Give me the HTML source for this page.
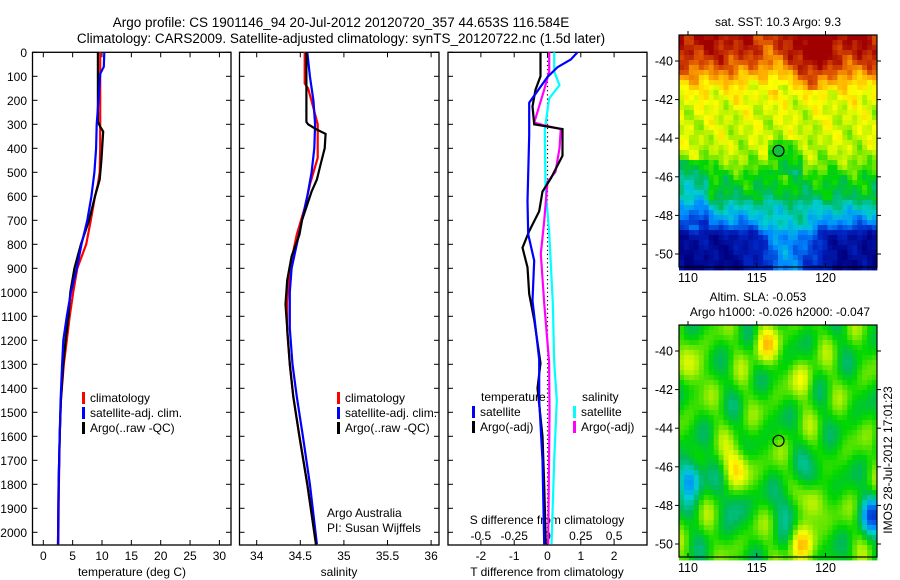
<!DOCTYPE html>
<html><head><meta charset="utf-8"><style>
body{margin:0;background:#fff;}
svg{display:block;font-family:"Liberation Sans",sans-serif;}
text{fill:#000;}
</style></head><body>
<svg id="fig" width="900" height="580" viewBox="0 0 900 580" xmlns="http://www.w3.org/2000/svg">
<rect x="0" y="0" width="900" height="580" fill="#fff"/>
<text x="341" y="27" font-size="13.5" text-anchor="middle">Argo profile: CS 1901146_94 20-Jul-2012 20120720_357 44.653S 116.584E</text>
<text x="341" y="43" font-size="13.5" text-anchor="middle">Climatology: CARS2009. Satellite-adjusted climatology: synTS_20120722.nc (1.5d later)</text>
<g id="p1"></g>
<g id="p2"></g>
<g id="p3"></g>
<g id="m1"></g>
<g id="m2"></g>
<text x="327" y="517" font-size="12">Argo Australia</text>
<text x="327" y="532" font-size="12">PI: Susan Wijffels</text>
<text x="778" y="26" font-size="12" text-anchor="middle">sat. SST: 10.3 Argo: 9.3</text>
<text x="758" y="301" font-size="12" text-anchor="middle">Altim. SLA: -0.053</text>
<text x="780" y="316" font-size="12" text-anchor="middle">Argo h1000: -0.026 h2000: -0.047</text>
<text transform="translate(892,460) rotate(-90)" font-size="12" text-anchor="middle">IMOS 28-Jul-2012 17:01:23</text>
</svg>
<script>
// ---- data ----
const depthTicks=[0,100,200,300,400,500,600,700,800,900,1000,1100,1200,1300,1400,1500,1600,1700,1800,1900,2000];
const tempTicks=[0,5,10,15,20,25,30];
const salTicks=[34,34.5,35,35.5,36];
const tdiffTicks=[-2,-1,0,1,2];
const sdiffTicks=[-0.5,-0.25,0,0.25,0.5];
const sdiffLabels=["-0.5","-0.25","0","0.25","0.5"];

const tClimDepth=[0,100,200,300,400,500,550,600,700,800,900,1000,1100,1200,1300,1450,1600,1800,2050];
const tClimVal=[9.7,9.7,9.7,9.7,9.7,9.6,9.3,8.8,8.1,7.3,5.8,5.1,4.5,4.0,3.5,3.0,2.8,2.65,2.55];
const tSatDepth=[0,60,90,200,300,400,500,600,700,800,900,1000,1100,1200,1300,1450,1600,1800,2050];
const tSatVal=[10.4,10.3,9.7,9.4,9.1,9.0,8.7,8.2,7.5,6.5,5.7,4.7,4.0,3.4,3.2,2.95,2.8,2.6,2.5];
const tArgoDepth=[0,290,310,330,450,530,600,700,800,900,1000,1100,1200,1300,1450,1600,1800,2050];
const tArgoVal=[9.3,9.3,9.7,10.2,9.9,9.6,8.8,7.8,6.4,5.3,4.6,4.3,3.8,3.4,3.0,2.8,2.6,2.5];

const sClimDepth=[0,130,150,217,300,440,551,648,759,898,1037,1162,1300,1435,1600,1800,2050];
const sClimVal=[34.55,34.55,34.59,34.64,34.70,34.70,34.61,34.55,34.46,34.38,34.35,34.35,34.38,34.42,34.49,34.58,34.68];
const sSatDepth=[0,100,200,300,400,500,600,700,800,900,1000,1150,1300,1435,1600,1800,2050];
const sSatVal=[34.58,34.61,34.65,34.67,34.66,34.63,34.58,34.52,34.46,34.40,34.38,34.38,34.41,34.46,34.53,34.61,34.69];
const sArgoDepth=[0,290,300,320,340,400,470,530,580,700,760,850,950,1050,1150,1300,1435,1600,1800,2050];
const sArgoVal=[34.57,34.57,34.59,34.68,34.79,34.78,34.73,34.69,34.63,34.52,34.49,34.40,34.35,34.33,34.35,34.38,34.42,34.49,34.58,34.68];

const dTSatDepth=[0,30,62,103,210,346,621,758,868,1035,1280,1450,1700,2050];
const dTSatVal=[0.9,0.7,0.3,0.0,-0.55,-0.55,-0.6,-0.58,-0.4,-0.45,-0.25,-0.25,-0.15,-0.1];
const dTArgoDepth=[0,100,156,226,300,320,431,526,580,662,745,814,896,1007,1115,1295,1400,1600,1800,2050];
const dTArgoVal=[-0.21,-0.21,-0.36,-0.45,-0.4,0.45,0.45,0.1,-0.15,-0.25,-0.55,-0.75,-0.6,-0.55,-0.4,-0.21,-0.3,-0.15,-0.1,-0.05];
const dSArgoDepth=[0,80,156,293,305,320,400,498,540,703,840,1045,1290,1500,1800,2050];
const dSArgoVal=[0.013,0.013,-0.025,-0.1,-0.02,0.1,0.09,0.06,0.0,-0.025,-0.05,-0.025,0.012,0.015,0.01,0.005];
const dSSatDepth=[0,80,137,192,320,567,750,1045,1290,1450,1700,2050];
const dSSatVal=[0.05,0.05,0.09,0.013,-0.02,-0.015,0.013,0.04,0.05,0.07,0.05,0.03];

const argoLon=116.584, argoLat=-44.653;
const mapLonTicks=[110,115,120];
const mapLatTicks=[-40,-42,-44,-46,-48,-50];

// ---- helpers ----
const NS="http://www.w3.org/2000/svg";
function mk(parent,tag,attrs,txt){const e=document.createElementNS(NS,tag);for(const k in attrs)e.setAttribute(k,attrs[k]);if(txt!==undefined)e.textContent=txt;parent.appendChild(e);return e;}
const Y0=52.3, PXM=0.24, YB=545;
const yD=d=>Y0+d*PXM;

function frame(g,x0,x1,name){
  const r=mk(g,'rect',{x:x0,y:Y0,width:x1-x0,height:YB-Y0,fill:'none',stroke:'#000','stroke-width':1.3});
  
  
  depthTicks.forEach(d=>{
    mk(g,'line',{x1:x0,x2:x0+5,y1:yD(d),y2:yD(d),stroke:'#000'});
    mk(g,'line',{x1:x1,x2:x1-5,y1:yD(d),y2:yD(d),stroke:'#000'});
  });
}
function profile(g,depths,vals,fx,color,name,w){
  const pts=[];
  for(let i=0;i<depths.length;i++){pts.push(fx(vals[i]).toFixed(1)+','+yD(depths[i]).toFixed(1));}
  const p=mk(g,'polyline',{points:pts.join(' '),fill:'none',stroke:color,'stroke-width':w||2.2,'stroke-linejoin':'miter'});
  
  
}
function legendRow(g,x,y,color,label,name){
  const b=mk(g,'rect',{x:x,y:y-6,width:3,height:12,fill:color});
  const t=mk(g,'text',{x:x+8,y:y+4,'font-size':12},label);
  
  
}

// ---- panel 1: temperature ----
const g1=document.getElementById('p1');
const fT=v=>43.3+v*5.87;
frame(g1,32.5,231,'temperature-plot-frame');
depthTicks.forEach(d=>{
  const t=mk(g1,'text',{x:27,y:yD(d)+4.5,'font-size':12,'text-anchor':'end'},String(d));
  
  
});
tempTicks.forEach(v=>{
  mk(g1,'line',{x1:fT(v),x2:fT(v),y1:Y0,y2:Y0+5,stroke:'#000'});
  mk(g1,'line',{x1:fT(v),x2:fT(v),y1:YB,y2:YB-5,stroke:'#000'});
  const t=mk(g1,'text',{x:fT(v),y:560,'font-size':12,'text-anchor':'middle'},String(v));
  
  
});
mk(g1,'text',{x:132,y:576,'font-size':12,'text-anchor':'middle',},'temperature (deg C)');
profile(g1,tClimDepth,tClimVal,fT,'#ff0000','temperature-climatology-line');
profile(g1,tArgoDepth,tArgoVal,fT,'#000000','temperature-argo-line');
profile(g1,tSatDepth,tSatVal,fT,'#0000ff','temperature-satellite-line');
legendRow(g1,82,398,'#ff0000','climatology','legend-climatology');
legendRow(g1,82,413,'#0000ff','satellite-adj. clim.','legend-satellite-adj');
legendRow(g1,82,428,'#000000','Argo(..raw -QC)','legend-argo');

// ---- panel 2: salinity ----
const g2=document.getElementById('p2');
const fS=v=>256.7+(v-34)*87.2;
frame(g2,239.5,439,'salinity-plot-frame');
salTicks.forEach(v=>{
  mk(g2,'line',{x1:fS(v),x2:fS(v),y1:Y0,y2:Y0+5,stroke:'#000'});
  mk(g2,'line',{x1:fS(v),x2:fS(v),y1:YB,y2:YB-5,stroke:'#000'});
  const t=mk(g2,'text',{x:fS(v),y:560,'font-size':12,'text-anchor':'middle'},String(v));
  
  
});
mk(g2,'text',{x:339,y:576,'font-size':12,'text-anchor':'middle',},'salinity');
profile(g2,sClimDepth,sClimVal,fS,'#ff0000','salinity-climatology-line');
profile(g2,sSatDepth,sSatVal,fS,'#0000ff','salinity-satellite-line');
profile(g2,sArgoDepth,sArgoVal,fS,'#000000','salinity-argo-line');
legendRow(g2,337,398,'#ff0000','climatology','legend-climatology-2');
legendRow(g2,337,413,'#0000ff','satellite-adj. clim.','legend-satellite-adj-2');
legendRow(g2,337,428,'#000000','Argo(..raw -QC)','legend-argo-2');

// ---- panel 3: differences ----
const g3=document.getElementById('p3');
const fDT=v=>547.5+v*33.3;
const fDS=v=>547.5+v*133.2;
frame(g3,448,647,'difference-plot-frame');
mk(g3,'line',{x1:547.5,x2:547.5,y1:Y0,y2:YB,stroke:'#000','stroke-dasharray':'1.2,3','stroke-width':1.2,});
sdiffTicks.forEach((v,i)=>{
  mk(g3,'line',{x1:fDS(v),x2:fDS(v),y1:Y0,y2:Y0+5,stroke:'#000'});
  const t=mk(g3,'text',{x:fDS(v),y:540,'font-size':12,'text-anchor':'middle'},sdiffLabels[i]);
  
  
});
tdiffTicks.forEach(v=>{
  mk(g3,'line',{x1:fDT(v),x2:fDT(v),y1:YB,y2:YB-5,stroke:'#000'});
  const t=mk(g3,'text',{x:fDT(v),y:560,'font-size':12,'text-anchor':'middle'},String(v));
  
  
});
mk(g3,'text',{x:547,y:524,'font-size':12,'text-anchor':'middle',},'S difference from climatology');
mk(g3,'text',{x:547,y:576,'font-size':12,'text-anchor':'middle',},'T difference from climatology');
profile(g3,dSSatDepth,dSSatVal,fDS,'#00ffff','s-diff-satellite-line');
profile(g3,dSArgoDepth,dSArgoVal,fDS,'#ff00ff','s-diff-argo-line');
profile(g3,dTArgoDepth,dTArgoVal,fDT,'#000000','t-diff-argo-line');
profile(g3,dTSatDepth,dTSatVal,fDT,'#0000ff','t-diff-satellite-line');
mk(g3,'text',{x:481,y:401,'font-size':12,},'temperature');
mk(g3,'text',{x:582,y:401,'font-size':12,},'salinity');
legendRow(g3,472,412,'#0000ff','satellite','legend-t-satellite');
legendRow(g3,472,427,'#000000','Argo(-adj)','legend-t-argo');
legendRow(g3,573,412,'#00ffff','satellite','legend-s-satellite');
legendRow(g3,573,427,'#ff00ff','Argo(-adj)','legend-s-argo');

// ---- maps ----
const MX0=679, MX1=877;
const fLon=v=>688+(v-110)*13.75;
const cmapPos=[0,0.15,0.28,0.38,0.48,0.55,0.65,0.72,0.82,0.9,1];
const cmapRGB=[[0,0,130],[0,40,200],[0,140,255],[0,205,210],[0,185,90],[0,215,0],[170,240,0],[255,255,0],[255,170,0],[220,80,0],[160,0,0]];
function cmap(v){
  v=Math.max(0,Math.min(1,v));
  for(let i=1;i<cmapPos.length;i++){
    if(v<=cmapPos[i]){const t=(v-cmapPos[i-1])/(cmapPos[i]-cmapPos[i-1]);const a=cmapRGB[i-1],b=cmapRGB[i];
      return 'rgb('+Math.round(a[0]+t*(b[0]-a[0]))+','+Math.round(a[1]+t*(b[1]-a[1]))+','+Math.round(a[2]+t*(b[2]-a[2]))+')';}
  }
  return 'rgb(160,0,0)';
}
// SST meridional profile (lat, colour level)
const sstLat=[-38.6,-39.5,-40.2,-40.8,-41.5,-42.5,-44.5,-45.4,-46.0,-47.0,-47.8,-48.5,-49.0,-50.7];
const sstLvl=[0.99,0.96,0.9,0.82,0.73,0.69,0.67,0.62,0.55,0.5,0.36,0.24,0.06,0.02];
function interp(xs,ys,x){
  if(x>=xs[0])return ys[0];
  for(let i=1;i<xs.length;i++){if(x>=xs[i]){const t=(x-xs[i-1])/(xs[i]-xs[i-1]);return ys[i-1]+t*(ys[i]-ys[i-1]);}}
  return ys[ys.length-1];
}
function drawMap(gid,yTop,yBot,latToY,field,filled,name){
  const g=document.getElementById(gid);
  const cw=4.95, ch=5.0;
  for(let y=yTop;y<yBot;y+=ch){
    for(let x=MX0;x<MX1;x+=cw){
      const lon=110+(x+cw/2-688)/13.75;
      const lat=-40-((y+ch/2)-latToY(-40))/19.3;
      mk(g,'rect',{x:x.toFixed(2),y:y.toFixed(2),width:(cw+0.4).toFixed(2),height:(ch+0.4).toFixed(2),fill:cmap(field(lon,lat))});
    }
  }
  const fr=mk(g,'rect',{x:MX0,y:yTop,width:MX1-MX0,height:yBot-yTop,fill:'none',stroke:'#000','stroke-width':1.2});
  
  
  mapLonTicks.forEach(v=>{
    mk(g,'line',{x1:fLon(v),x2:fLon(v),y1:yTop-4,y2:yTop,stroke:'#000'});
    mk(g,'line',{x1:fLon(v),x2:fLon(v),y1:yBot,y2:yBot-4,stroke:'#000'});
    const t=mk(g,'text',{x:fLon(v),y:yBot+15,'font-size':12.5,'text-anchor':'middle'},String(v));
    
    
  });
  mapLatTicks.forEach(v=>{
    mk(g,'line',{x1:MX0-4,x2:MX0,y1:latToY(v),y2:latToY(v),stroke:'#000'});
    mk(g,'line',{x1:MX1,x2:MX1+4,y1:latToY(v),y2:latToY(v),stroke:'#000'});
    const t=mk(g,'text',{x:MX0-6,y:latToY(v)+4.5,'font-size':12.5,'text-anchor':'end'},String(v));
    
    
  });
  const c=mk(g,'circle',{cx:fLon(argoLon),cy:latToY(argoLat),r:5.5,fill:filled?'#10c040':'none',stroke:'#000','stroke-width':1.2});
  
  
}
const lat1=v=>61+(-40-v)*19.3;
const lat2=v=>351+(-40-v)*19.3;
function sstField(lon,lat){
  let base=interp(sstLat,sstLvl,lat);
  const n=0.03*Math.sin(lon*2.3+lat*1.7)+0.025*Math.sin(lon*5.1-lat*3.3)+0.025*Math.cos(lon*3.7+lat*4.9);
  if(lat>-41.5){base+=0.1*Math.exp(-Math.pow((lon-119.2)/1.1,2))-0.06*Math.exp(-Math.pow((lon-116)/1.5,2));}
  if(lat<-47.5){base+=0.25*Math.exp(-Math.pow((lon-117.3)/2.2,2))*Math.min(1,(-47.5-lat)/1.5);}
  if(lat<-45&&lat>-48.5&&lon<111.5){base-=0.1;}
  if(lat<-44&&lat>-46&&lon>116&&lon<118.5){base-=0.08;}
  return base+n;
}
const slaLon=[110.2,113.6,117.4,119.1,119.4,123.5,115.6,118.1,118.5,110.5,113.5];
const slaLat=[-46.6,-46.0,-48.1,-47.9,-46.4,-48.5,-39.7,-50.1,-41.5,-41.0,-47.8];
const slaAmp=[-0.3,0.2,-0.14,0.2,-0.12,-0.3,0.17,0.18,0.1,0.1,-0.1];
function slaField(lon,lat){
  let v=0.56+0.04*Math.sin(lon*1.9+lat*1.1)+0.04*Math.sin(lon*1.3-lat*2.1)+0.03*Math.cos(lon*2.9+lat*0.7);
  for(let i=0;i<slaLon.length;i++){
    v+=slaAmp[i]*Math.exp(-(Math.pow((lon-slaLon[i])/0.9,2)+Math.pow((lat-slaLat[i])/1.0,2)));
  }
  return v;
}
drawMap('m1',35,267,lat1,sstField,true,'sst-map');
drawMap('m2',325,557,lat2,slaField,false,'sla-map');
</script>
</body></html>
